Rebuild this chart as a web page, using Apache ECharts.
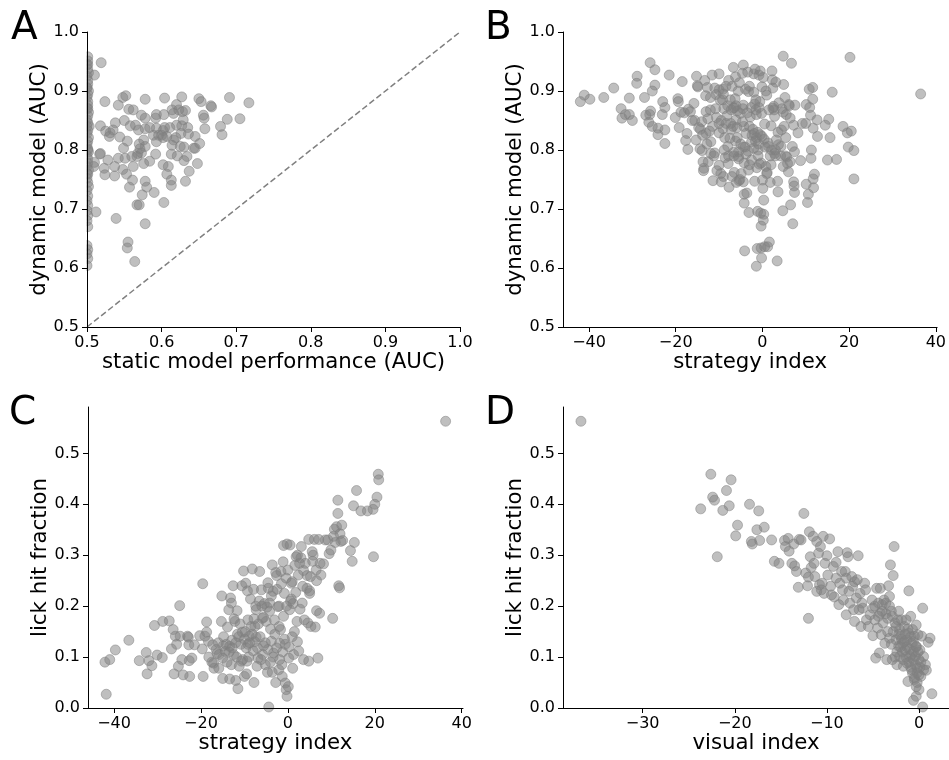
<!DOCTYPE html>
<html>
<head>
<meta charset="utf-8">
<script src="https://cdn.jsdelivr.net/npm/echarts@6/dist/echarts.min.js"></script>
<style>
  html, body { margin: 0; padding: 0; background: #fff; }
  #chart { width: 949px; height: 760px; }
</style>
</head>
<body>
<div id="chart"></div>
<script>
// panel A: static model AUC vs dynamic model AUC
const staticVsDynamic = [
  [0.501,0.958],[0.501,0.951],[0.500,0.944],[0.501,0.937],[0.502,0.931],[0.500,0.925],[0.501,0.918],[0.501,0.912],
  [0.500,0.906],[0.502,0.900],[0.501,0.894],[0.500,0.889],[0.501,0.882],[0.501,0.876],[0.500,0.871],[0.502,0.864],
  [0.501,0.858],[0.500,0.851],[0.501,0.846],[0.503,0.840],[0.501,0.833],[0.500,0.828],[0.502,0.821],[0.501,0.815],
  [0.500,0.809],[0.501,0.802],[0.502,0.797],[0.500,0.791],[0.501,0.785],[0.501,0.778],[0.500,0.772],[0.502,0.766],
  [0.501,0.759],[0.500,0.752],[0.501,0.745],[0.502,0.738],[0.500,0.731],[0.501,0.722],[0.500,0.714],[0.501,0.706],
  [0.500,0.697],[0.501,0.689],[0.500,0.680],[0.501,0.670],[0.500,0.638],[0.501,0.631],[0.500,0.624],[0.501,0.616],
  [0.500,0.604],[0.501,0.945],[0.500,0.905],[0.501,0.870],[0.500,0.840],[0.501,0.800],[0.500,0.760],
  [0.519,0.948],[0.510,0.927],[0.524,0.882],[0.542,0.876],[0.548,0.889],[0.552,0.892],[0.578,0.886],[0.604,0.888],
  [0.627,0.890],[0.650,0.887],[0.653,0.882],[0.691,0.889],[0.717,0.880],[0.666,0.875],[0.667,0.873],[0.556,0.869],
  [0.562,0.868],[0.573,0.859],[0.578,0.854],[0.592,0.854],[0.593,0.860],[0.603,0.860],[0.614,0.868],[0.620,0.877],
  [0.616,0.862],[0.628,0.865],[0.632,0.867],[0.629,0.851],[0.656,0.859],[0.657,0.854],[0.688,0.852],[0.705,0.853],
  [0.679,0.840],[0.681,0.826],[0.658,0.836],[0.645,0.823],[0.651,0.811],[0.643,0.803],[0.518,0.841],[0.525,0.832],
  [0.531,0.829],[0.538,0.846],[0.550,0.850],[0.558,0.841],[0.565,0.842],[0.569,0.834],[0.578,0.836],[0.584,0.838],
  [0.593,0.837],[0.602,0.833],[0.611,0.838],[0.627,0.841],[0.635,0.838],[0.544,0.822],[0.554,0.815],[0.570,0.810],
  [0.576,0.817],[0.589,0.825],[0.596,0.825],[0.602,0.821],[0.616,0.817],[0.619,0.821],[0.614,0.808],[0.625,0.806],
  [0.630,0.805],[0.549,0.803],[0.542,0.786],[0.551,0.786],[0.518,0.794],[0.517,0.793],[0.510,0.779],[0.509,0.772],
  [0.528,0.783],[0.523,0.769],[0.524,0.758],[0.537,0.772],[0.537,0.756],[0.548,0.767],[0.553,0.759],[0.557,0.737],
  [0.561,0.749],[0.562,0.772],[0.568,0.794],[0.573,0.795],[0.571,0.802],[0.578,0.806],[0.576,0.777],[0.584,0.781],
  [0.578,0.747],[0.580,0.737],[0.574,0.724],[0.590,0.728],[0.567,0.707],[0.570,0.707],[0.592,0.793],[0.602,0.775],
  [0.609,0.772],[0.607,0.759],[0.613,0.749],[0.613,0.740],[0.603,0.711],[0.613,0.793],[0.621,0.790],[0.630,0.782],
  [0.634,0.789],[0.637,0.764],[0.632,0.747],[0.648,0.777],[0.539,0.684],[0.512,0.695],[0.578,0.675],[0.555,0.644],
  [0.554,0.634],[0.564,0.611],[0.604,0.838],[0.600,0.825],[0.607,0.823],[0.593,0.814],[0.567,0.789],[0.560,0.789],
  [0.535,0.834],[0.530,0.823],[0.620,0.842],[0.623,0.868],[0.636,0.827],[0.645,0.803],[0.626,0.828]
];
const identityLine = [[0.5, 0.5], [1.0, 1.0]];

// panel B: strategy index vs dynamic model AUC
const strategyVsDynamic = [
  [-42.0,0.882],[-41.1,0.893],[-39.8,0.886],[-36.6,0.889],[-34.3,0.905],[-32.6,0.870],[-32.4,0.854],[-31.6,0.860],
  [-30.7,0.860],[-30.0,0.850],[-30.7,0.888],[-28.9,0.925],[-29.0,0.913],[-27.2,0.889],[-26.9,0.859],[-26.0,0.860],
  [-25.8,0.866],[-26.2,0.847],[-25.4,0.840],[-24.1,0.837],[-24.1,0.826],[-25.9,0.948],[-24.8,0.936],[-24.8,0.910],
  [-25.4,0.900],[-23.0,0.882],[-23.1,0.860],[-22.5,0.872],[-22.5,0.834],[-22.5,0.811],[-21.5,0.927],[-19.5,0.887],
  [-19.4,0.882],[-20.1,0.855],[-19.2,0.838],[-18.5,0.916],[-18.8,0.864],[-17.1,0.869],[-17.4,0.828],[-17.7,0.816],
  [-17.2,0.801],[-16.6,0.865],[-15.8,0.879],[-15.6,0.850],[-15.2,0.925],[-14.9,0.907],[-15.0,0.909],[-14.7,0.838],
  [-14.3,0.835],[-15.3,0.817],[-14.4,0.802],[-13.9,0.799],[-13.7,0.780],[-13.5,0.769],[-13.6,0.765],[-13.3,0.918],
  [-13.1,0.892],[-13.0,0.865],[-13.0,0.828],[-12.7,0.906],[-12.6,0.853],[-12.0,0.889],[-12.2,0.832],[-11.9,0.814],
  [-11.9,0.794],[-11.6,0.927],[-11.4,0.748],[-11.0,0.795],[-10.7,0.894],[-10.6,0.855],[-10.0,0.929],[-10.0,0.902],
  [-10.0,0.829],[-10.0,0.774],[-10.0,0.845],[-9.6,0.760],[-9.5,0.746],[-9.2,0.885],[-9.1,0.903],[-9.1,0.836],
  [-8.9,0.870],[-8.7,0.821],[-8.6,0.787],[-8.4,0.908],[-8.2,0.858],[-8.0,0.806],[-7.9,0.777],[-7.7,0.737],
  [-7.4,0.885],[-7.3,0.845],[-7.2,0.835],[-7.0,0.908],[-6.7,0.940],[-6.7,0.871],[-6.6,0.796],[-6.3,0.887],
  [-6.5,0.762],[-6.2,0.924],[-6.1,0.875],[-6.1,0.851],[-5.8,0.821],[-5.5,0.797],[-5.5,0.789],[-5.4,0.748],
  [-5.3,0.914],[-5.1,0.862],[-4.9,0.760],[-4.6,0.930],[-4.4,0.944],[-4.4,0.876],[-4.3,0.840],[-4.4,0.805],
  [-4.4,0.746],[-4.2,0.710],[-4.2,0.725],[-4.1,0.629],[-3.9,0.903],[-3.8,0.828],[-3.6,0.727],[-3.4,0.932],
  [-3.2,0.899],[-3.2,0.766],[-3.1,0.694],[-2.8,0.856],[-2.6,0.872],[-2.5,0.814],[-2.5,0.783],[-2.0,0.929],
  [-1.9,0.828],[-1.8,0.747],[-1.7,0.937],[-1.5,0.885],[-1.5,0.868],[-1.4,0.860],[-1.4,0.821],[-1.2,0.633],
  [-1.4,0.603],[-1.1,0.696],[-1.0,0.800],[-0.8,0.927],[-0.7,0.776],[-0.6,0.882],[-0.5,0.934],[-0.4,0.693],
  [-0.3,0.671],[-0.3,0.634],[-0.2,0.617],[-0.1,0.823],[-0.1,0.907],[0.0,0.749],[0.1,0.735],[0.2,0.681],
  [0.2,0.923],[0.3,0.715],[0.3,0.691],[0.5,0.844],[0.5,0.636],[0.8,0.772],[1.0,0.893],[1.1,0.762],
  [1.2,0.636],[1.4,0.806],[1.6,0.644],[1.8,0.745],[2.0,0.841],[2.2,0.934],[2.3,0.919],[2.4,0.871],
  [2.7,0.868],[2.8,0.794],[2.8,0.857],[3.1,0.915],[3.2,0.817],[3.5,0.747],[3.4,0.612],[3.6,0.729],
  [3.7,0.809],[4.3,0.806],[4.4,0.834],[4.7,0.697],[4.8,0.959],[4.9,0.911],[4.8,0.864],[4.8,0.772],
  [5.2,0.889],[5.4,0.821],[5.6,0.788],[5.8,0.777],[6.0,0.763],[6.1,0.877],[6.4,0.854],[6.5,0.707],
  [6.7,0.947],[6.9,0.806],[7.0,0.675],[7.2,0.746],[7.2,0.842],[7.3,0.739],[7.4,0.797],[7.4,0.728],
  [7.5,0.876],[8.2,0.829],[8.8,0.782],[9.2,0.845],[10.0,0.845],[10.1,0.877],[10.1,0.742],[10.4,0.711],
  [10.6,0.725],[10.8,0.903],[10.9,0.872],[11.1,0.859],[11.2,0.786],[11.3,0.800],[11.6,0.906],[11.6,0.886],
  [11.7,0.837],[11.7,0.751],[11.8,0.736],[12.0,0.759],[12.6,0.851],[12.7,0.823],[14.5,0.842],[15.0,0.783],
  [15.3,0.852],[15.6,0.821],[16.1,0.898],[17.1,0.784],[18.6,0.840],[19.6,0.829],[19.8,0.805],[20.2,0.957],
  [20.5,0.832],[21.1,0.799],[21.1,0.751],[36.5,0.895],
  [-8.0,0.875],[-7.2,0.868],[-6.5,0.872],[-5.8,0.866],[-4.5,0.870],[-3.5,0.863],[-1.8,0.878],[-0.8,0.872],
  [-0.2,0.862],[1.5,0.868],[2.6,0.874],[-9.5,0.850],[-8.4,0.845],[-6.8,0.840],[-5.9,0.838],[-4.6,0.848],
  [-3.0,0.840],[-2.2,0.835],[-1.1,0.830],[-0.5,0.826],[0.4,0.818],[1.3,0.812],[-7.5,0.820],[-6.2,0.815],
  [-5.0,0.810],[-4.0,0.805],[-3.3,0.798],[-2.4,0.825],[-1.6,0.815],[-0.9,0.810],[0.6,0.805],[2.1,0.800],
  [3.0,0.790],[-8.8,0.800],[-7.8,0.790],[-6.6,0.790],[-5.5,0.785],[-4.2,0.778],[-3.0,0.775],[-1.3,0.770],
  [-0.3,0.778],[1.8,0.790],[-12.5,0.780],[-11.2,0.790],[-10.5,0.765],[-9.0,0.755],[-7.0,0.755],[-6.0,0.745],
  [-5.2,0.750],[-12.8,0.810],[-13.8,0.825],[-11.5,0.840],[-10.8,0.870],[-9.8,0.885],[-12.0,0.868],[-14.0,0.848],
  [-16.2,0.850],[-18.0,0.863],[-11.0,0.905],[-9.0,0.895],[-7.8,0.918],[-5.6,0.900],[-3.0,0.908],[-2.0,0.898],
  [0.8,0.900],[2.4,0.905],[3.8,0.880],[4.5,0.870],[5.5,0.860],[6.2,0.875],[5.0,0.840],[3.6,0.830],
  [3.0,0.800],[4.2,0.790],[5.3,0.790],[6.4,0.780],[2.0,0.775],[1.0,0.760],[-1.0,0.790],[-2.0,0.803],[-3.8,0.793]
];

// panel C: strategy index vs lick hit fraction
const strategyVsLick = [
  [-42.1,0.090],[-41.0,0.095],[-41.8,0.027],[-39.7,0.114],[-36.6,0.133],[-34.2,0.093],[-32.6,0.109],[-32.4,0.067],
  [-32.0,0.093],[-31.3,0.083],[-30.7,0.162],[-30.1,0.104],[-28.9,0.099],[-28.8,0.170],[-27.3,0.171],[-26.8,0.116],
  [-26.4,0.154],[-26.2,0.067],[-25.9,0.141],[-25.6,0.125],[-25.2,0.082],[-24.9,0.201],[-24.8,0.141],[-24.4,0.095],
  [-24.1,0.065],[-23.1,0.141],[-22.9,0.139],[-22.8,0.124],[-22.7,0.093],[-22.6,0.062],[-22.1,0.098],[-21.5,0.124],
  [-20.3,0.142],[-19.7,0.116],[-19.6,0.244],[-19.5,0.062],[-19.1,0.141],[-18.7,0.169],[-18.7,0.149],[-18.3,0.131],
  [-17.3,0.124],[-17.1,0.088],[-17.0,0.078],[-16.3,0.107],[-15.9,0.078],[-15.3,0.170],[-15.2,0.220],[-15.0,0.058],
  [-14.9,0.122],[-14.4,0.111],[-13.9,0.159],[-13.6,0.193],[-13.4,0.057],[-13.4,0.121],[-13.2,0.216],[-13.0,0.206],
  [-12.9,0.133],[-12.5,0.105],[-12.2,0.170],[-12.0,0.054],[-11.7,0.191],[-11.6,0.145],[-11.5,0.038],[-11.2,0.082],
  [-10.7,0.092],[-10.5,0.149],[-10.2,0.269],[-10.0,0.062],[-9.7,0.245],[-9.5,0.067],[-9.4,0.092],[-9.2,0.125],
  [-9.2,0.173],[-8.9,0.141],[-8.6,0.214],[-8.2,0.273],[-7.9,0.233],[-7.8,0.050],[-7.6,0.160],[-7.3,0.193],
  [-7.3,0.139],[-7.1,0.082],[-6.9,0.098],[-6.5,0.268],[-6.1,0.232],[-5.9,0.176],[-5.6,0.122],[-5.2,0.085],
  [-5.0,0.170],[-4.7,0.070],[-4.6,0.246],[-4.4,0.002],[-4.2,0.206],[-4.0,0.155],[-3.8,0.131],[-3.6,0.281],
  [-3.4,0.229],[-3.3,0.108],[-3.1,0.173],[-2.8,0.266],[-2.5,0.233],[-2.3,0.199],[-2.1,0.075],[-1.9,0.127],
  [-1.7,0.154],[-1.5,0.244],[-1.3,0.062],[-1.1,0.287],[-1.0,0.319],[-0.8,0.135],[-0.8,0.225],[-0.6,0.049],
  [-0.4,0.036],[-0.2,0.023],[-0.2,0.322],[0.0,0.271],[0.1,0.042],[0.2,0.098],[0.4,0.193],[0.5,0.320],
  [0.8,0.214],[1.0,0.248],[1.1,0.078],[1.3,0.105],[1.5,0.150],[1.8,0.227],[1.9,0.297],[2.1,0.170],
  [2.4,0.261],[2.5,0.112],[2.7,0.284],[2.8,0.194],[3.1,0.317],[3.3,0.206],[3.4,0.239],[3.6,0.095],
  [3.8,0.173],[4.0,0.284],[4.4,0.235],[4.6,0.167],[4.8,0.331],[4.8,0.092],[5.0,0.225],[5.2,0.258],
  [5.3,0.160],[5.6,0.307],[5.7,0.288],[6.1,0.331],[6.3,0.159],[6.5,0.271],[6.6,0.191],[6.9,0.098],
  [7.1,0.331],[7.3,0.186],[7.4,0.284],[7.6,0.261],[8.2,0.283],[8.6,0.330],[9.2,0.330],[9.5,0.303],
  [9.9,0.310],[10.3,0.176],[10.5,0.337],[10.7,0.351],[10.9,0.325],[11.2,0.356],[11.5,0.408],[11.5,0.382],
  [11.7,0.240],[11.9,0.236],[12.0,0.342],[12.2,0.327],[12.4,0.359],[12.6,0.329],[14.4,0.309],[14.8,0.288],
  [15.1,0.397],[15.3,0.325],[15.8,0.427],[16.8,0.387],[18.3,0.387],[19.6,0.390],[19.7,0.297],[20.0,0.400],
  [20.5,0.414],[20.8,0.459],[20.9,0.448],[36.3,0.563],
  [-16.5,0.115],[-15.8,0.105],[-15.0,0.098],[-14.2,0.125],[-13.5,0.110],[-12.8,0.118],[-12.0,0.128],[-11.3,0.140],
  [-10.8,0.125],[-10.0,0.135],[-9.6,0.118],[-8.8,0.128],[-8.2,0.145],[-7.6,0.130],[-7.0,0.118],[-6.4,0.140],
  [-5.8,0.105],[-5.2,0.128],[-4.6,0.115],[-4.0,0.090],[-3.4,0.100],[-2.6,0.118],[-1.9,0.095],[-1.2,0.110],
  [-0.6,0.125],[-6.8,0.165],[-6.0,0.200],[-5.4,0.205],[-4.8,0.198],[-4.2,0.190],[-5.6,0.178],[-7.8,0.175],
  [-8.5,0.160],[-9.8,0.150],[-11.8,0.100],[-13.0,0.085],[-14.0,0.090],[-10.4,0.095],[-9.0,0.100],[-8.0,0.112],
  [-6.2,0.095],[-3.0,0.145],[-2.0,0.160],[-1.0,0.180],[-0.3,0.200],[0.6,0.210],[1.2,0.205],[-4.5,0.235],
  [-3.8,0.220],[-2.6,0.260],[-1.6,0.268],[-0.4,0.255],[0.8,0.245],[1.6,0.280],[2.2,0.300],[3.0,0.295],
  [3.6,0.270],[4.4,0.260],[5.0,0.230],[5.8,0.300],[6.6,0.250],[-11.0,0.165],[-12.4,0.175],[-14.8,0.140],
  [-16.0,0.128],[-17.5,0.090],[-18.2,0.100],[-3.6,0.070],[-2.8,0.050],[-1.4,0.085],[0.3,0.120],[1.0,0.140],
  [2.2,0.130],[-7.4,0.200],[-6.6,0.210],[-2.0,0.200],[-9.3,0.230],[-10.6,0.240],[-12.6,0.240]
];

// panel D: visual index vs lick hit fraction
const visualVsLick = [
  [-36.7,0.563],[-23.7,0.391],[-22.6,0.459],[-22.4,0.414],[-22.2,0.408],[-21.9,0.297],[-21.3,0.388],[-20.9,0.427],
  [-20.6,0.397],[-20.4,0.448],[-19.9,0.338],[-19.7,0.359],[-18.4,0.400],[-18.2,0.327],[-18.1,0.322],[-17.6,0.350],
  [-17.4,0.387],[-17.3,0.329],[-16.8,0.355],[-16.0,0.330],[-15.7,0.288],[-15.2,0.284],[-14.6,0.329],[-14.5,0.317],
  [-14.2,0.333],[-14.1,0.308],[-13.8,0.284],[-13.6,0.322],[-13.5,0.279],[-13.3,0.268],[-13.1,0.237],[-13.0,0.331],
  [-12.8,0.330],[-12.5,0.382],[-12.3,0.265],[-12.1,0.240],[-12.0,0.257],[-12.0,0.176],[-11.9,0.346],[-11.8,0.297],
  [-11.7,0.276],[-11.5,0.337],[-11.4,0.284],[-11.3,0.258],[-11.1,0.229],[-11.1,0.327],[-10.9,0.304],[-10.8,0.242],
  [-10.7,0.317],[-10.6,0.232],[-10.5,0.245],[-10.4,0.337],[-10.3,0.225],[-10.2,0.284],[-10.0,0.299],[-9.9,0.261],
  [-9.7,0.332],[-9.6,0.239],[-9.5,0.222],[-9.3,0.278],[-9.2,0.218],[-9.0,0.286],[-9.0,0.255],[-8.8,0.307],
  [-8.7,0.203],[-8.6,0.245],[-8.4,0.268],[-8.3,0.232],[-8.2,0.212],[-8.0,0.268],[-7.9,0.183],[-7.9,0.255],
  [-7.8,0.305],[-7.7,0.297],[-7.6,0.229],[-7.5,0.206],[-7.3,0.258],[-7.2,0.239],[-7.1,0.193],[-7.0,0.170],
  [-7.0,0.248],[-6.8,0.216],[-6.7,0.252],[-6.6,0.299],[-6.5,0.193],[-6.4,0.225],[-6.3,0.160],[-6.2,0.206],
  [-6.1,0.196],[-5.9,0.245],[-5.8,0.232],[-5.7,0.173],[-5.5,0.160],[-5.3,0.183],[-5.1,0.212],[-5.0,0.142],
  [-5.0,0.196],[-4.8,0.173],[-4.7,0.098],[-4.6,0.235],[-4.5,0.157],[-4.4,0.206],[-4.3,0.108],[-4.2,0.235],
  [-4.2,0.186],[-4.1,0.144],[-4.0,0.203],[-3.9,0.167],[-3.8,0.212],[-3.7,0.127],[-3.6,0.206],[-3.5,0.095],
  [-3.4,0.176],[-3.3,0.240],[-3.2,0.137],[-3.2,0.219],[-3.1,0.281],[-3.0,0.190],[-2.9,0.095],[-2.8,0.260],
  [-2.7,0.317],[-2.6,0.167],[-2.5,0.134],[-2.4,0.085],[-2.3,0.173],[-2.2,0.121],[-2.1,0.154],[-2.1,0.101],
  [-2.0,0.141],[-1.9,0.173],[-1.8,0.127],[-1.7,0.082],[-1.6,0.160],[-1.5,0.114],[-1.4,0.173],[-1.3,0.134],
  [-1.3,0.088],[-1.2,0.052],[-1.1,0.230],[-1.1,0.147],[-1.0,0.101],[-0.9,0.180],[-0.8,0.127],[-0.8,0.075],
  [-0.7,0.154],[-0.6,0.111],[-0.5,0.056],[-0.5,0.141],[-0.4,0.101],[-0.3,0.163],[-0.3,0.023],[-0.3,0.121],
  [-0.2,0.069],[-0.1,0.144],[0.0,0.095],[0.0,0.036],[0.1,0.114],[0.2,0.062],[0.3,0.141],[0.4,0.196],
  [0.4,0.002],[0.5,0.101],[0.5,0.075],[0.7,0.085],[0.8,0.074],[1.0,0.129],[1.2,0.137],[1.4,0.028],
  [-0.6,0.015],[-0.3,0.042],
  [-2.8,0.150],[-2.5,0.160],[-2.2,0.145],[-1.9,0.135],[-1.6,0.130],[-1.3,0.120],[-1.0,0.115],[-0.8,0.105],
  [-0.6,0.095],[-0.4,0.085],[-0.2,0.078],[-1.8,0.110],[-1.4,0.100],[-1.1,0.090],[-0.9,0.080],[-0.7,0.068],
  [-0.5,0.060],[-2.0,0.120],[-2.4,0.110],[-1.5,0.145],[-1.2,0.155],[-0.9,0.140],[-0.6,0.130],[-0.3,0.120],
  [-0.1,0.110],[0.2,0.090],[0.1,0.080],[-3.4,0.150],[-3.0,0.125],[-2.6,0.100],[-3.6,0.185],[-3.2,0.200],
  [-4.0,0.190],[-4.4,0.180],[-4.8,0.200],[-2.9,0.180],[-2.2,0.190],[-1.7,0.095],[-0.2,0.050],[0.0,0.065]
];

// tick labels
const aucTicks = [0.5, 0.6, 0.7, 0.8, 0.9, 1.0];
const strategyTicks = [-40, -20, 0, 20, 40];
const visualTicks = [-30, -20, -10, 0];
const lickTicks = [0.0, 0.1, 0.2, 0.3, 0.4, 0.5];

const FONT = 'DejaVu Sans';
const fmt1 = v => v.toFixed(1);
const fmtInt = v => String(Math.round(v)).replace('-', '\u2212');

function makeAxis(grid, min, max, ticks, formatter, name, isY) {
  return {
    type: 'value',
    gridIndex: grid,
    z: 4,
    min: min,
    max: max,
    name: name,
    nameLocation: 'middle',
    nameGap: isY ? 37 : 22,
    nameRotate: isY ? 90 : 0,
    nameTextStyle: { fontFamily: FONT, fontSize: 21.3, color: '#000' },
    splitLine: { show: false },
    axisLine: { show: true, onZero: false, lineStyle: { color: '#000', width: 1 } },
    axisTick: { show: true, length: 5, inside: false, customValues: ticks, lineStyle: { color: '#000', width: 1 } },
    axisLabel: {
      show: true, margin: 8, customValues: ticks, formatter: formatter,
      fontFamily: FONT, fontSize: 16, color: '#000'
    }
  };
}

function scatter(i, data) {
  return {
    type: 'scatter',
    xAxisIndex: i,
    yAxisIndex: i,
    z: 2,
    data: data,
    symbolSize: 10,
    itemStyle: { color: '#808080', opacity: 0.5, borderColor: '#808080', borderWidth: 1 },
    emphasis: { disabled: true },
    silent: true
  };
}

const chart = echarts.init(document.getElementById('chart'), null, { renderer: 'canvas' });
chart.setOption({
  animation: false,
  backgroundColor: '#fff',
  grid: [
    { left: 87, top: 32, width: 373, height: 295 },
    { left: 563, top: 32, width: 377, height: 295 },
    { left: 88, top: 407, width: 375, height: 301 },
    { left: 563, top: 407, width: 386, height: 301 }
  ],
  xAxis: [
    makeAxis(0, 0.5, 1.0, aucTicks, fmt1, 'static model performance (AUC)', false),
    makeAxis(1, -46, 40.3, strategyTicks, fmtInt, 'strategy index', false),
    makeAxis(2, -46, 40.3, strategyTicks, fmtInt, 'strategy index', false),
    makeAxis(3, -38.65, 3.26, visualTicks, fmtInt, 'visual index', false)
  ],
  yAxis: [
    makeAxis(0, 0.5, 1.0, aucTicks, fmt1, 'dynamic model (AUC)', true),
    makeAxis(1, 0.5, 1.0, aucTicks, fmt1, 'dynamic model (AUC)', true),
    makeAxis(2, 0, 0.591, lickTicks, fmt1, 'lick hit fraction', true),
    makeAxis(3, 0, 0.591, lickTicks, fmt1, 'lick hit fraction', true)
  ],
  series: [
    {
      type: 'line',
      xAxisIndex: 0,
      yAxisIndex: 0,
      z: 1,
      data: identityLine,
      showSymbol: false,
      silent: true,
      lineStyle: { color: '#808080', width: 1.5, type: [6, 3] }
    },
    scatter(0, staticVsDynamic),
    scatter(1, strategyVsDynamic),
    scatter(2, strategyVsLick),
    scatter(3, visualVsLick)
  ],
  graphic: [
    // white strip left of panel A's y axis: markers at x = 0.5 are cut at the axes edge
    { type: 'rect', z: 3, silent: true, shape: { x: 75, y: 22, width: 11.5, height: 312 }, style: { fill: '#fff' } },
    { type: 'text', z: 5, left: 11, top: 9, style: { text: 'A', fontFamily: FONT, fontSize: 39, fill: '#000' } },
    { type: 'text', z: 5, left: 485, top: 9, style: { text: 'B', fontFamily: FONT, fontSize: 39, fill: '#000' } },
    { type: 'text', z: 5, left: 9, top: 394, style: { text: 'C', fontFamily: FONT, fontSize: 39, fill: '#000' } },
    { type: 'text', z: 5, left: 485, top: 394, style: { text: 'D', fontFamily: FONT, fontSize: 39, fill: '#000' } }
  ]
});
</script>
</body>
</html>
